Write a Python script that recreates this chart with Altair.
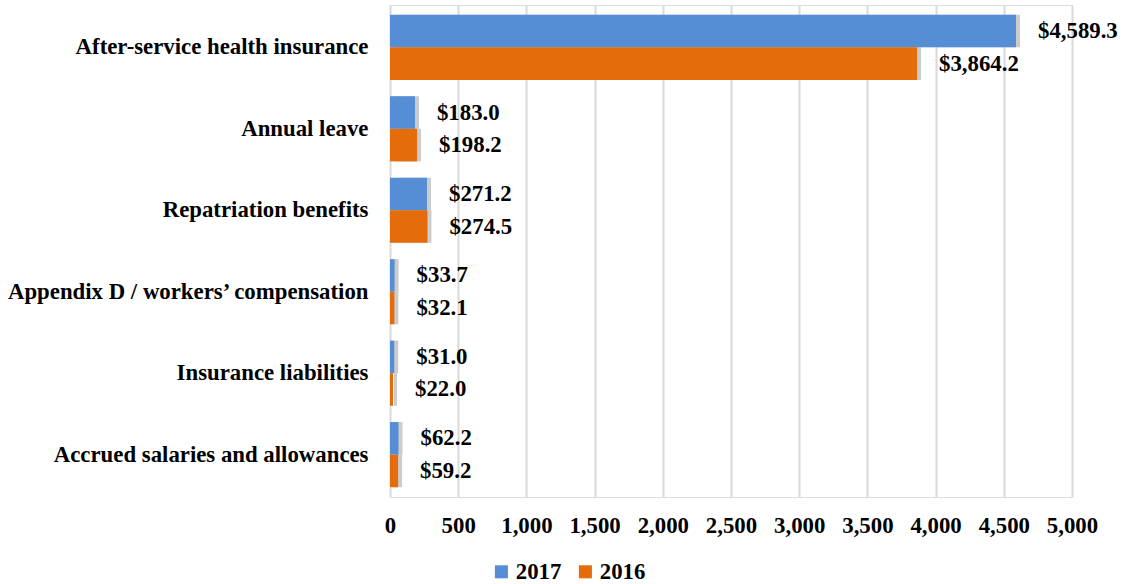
import altair as alt
import pandas as pd

categories = [
    "After-service health insurance",
    "Annual leave",
    "Repatriation benefits",
    "Appendix D / workers\u2019 compensation",
    "Insurance liabilities",
    "Accrued salaries and allowances",
]
values_2017 = [4589.3, 183.0, 271.2, 33.7, 31.0, 62.2]
values_2016 = [3864.2, 198.2, 274.5, 32.1, 22.0, 59.2]
years = ["2017", "2016"]
colors = ["#558ED5", "#E46C0A"]
ticks = [0, 500, 1000, 1500, 2000, 2500, 3000, 3500, 4000, 4500, 5000]

rows = []
for c, v17, v16 in zip(categories, values_2017, values_2016):
    rows.append({"category": c, "year": "2017", "value": v17, "label": f"${v17:,.1f}"})
    rows.append({"category": c, "year": "2016", "value": v16, "label": f"${v16:,.1f}"})
df = pd.DataFrame(rows)

FONT = "Liberation Serif"
FS = 22.8

y_enc = alt.Y("category:N", sort=categories, title=None,
              scale=alt.Scale(paddingInner=0.2, paddingOuter=0.12),
              axis=alt.Axis(labelFont=FONT, labelFontSize=FS, labelFontWeight="bold",
                            labelColor="black", ticks=False, domain=False,
                            labelPadding=22, labelLimit=500))
x_enc = alt.X("value:Q", title=None,
              scale=alt.Scale(domain=[0, 5000], nice=False),
              axis=alt.Axis(values=ticks, format=",.0f", labelOverlap=False,
                            labelFlush=False,
                            labelFont=FONT, labelFontSize=FS, labelFontWeight="bold",
                            labelColor="black", ticks=False, domain=False,
                            labelPadding=17, gridColor="#d9d9d9", gridWidth=2))
yoff = alt.YOffset("year:N", sort=years)

base = alt.Chart(df)

shadow = base.mark_bar(color="#999999", opacity=0.5, xOffset=4).encode(
    y=y_enc, x=x_enc, yOffset=yoff
)

bars = base.mark_bar().encode(
    y=y_enc, x=x_enc, yOffset=yoff,
    color=alt.Color("year:N", sort=years,
                    scale=alt.Scale(domain=years, range=colors),
                    legend=alt.Legend(orient="none", legendX=100, legendY=555,
                                      title=None, symbolType="square",
                                      symbolSize=170, symbolStrokeWidth=0,
                                      labelFont=FONT, labelFontSize=FS,
                                      labelFontWeight="bold", labelColor="black",
                                      direction="horizontal", labelOffset=3,
                                      columnPadding=12)),
)

labels = base.mark_text(align="left", baseline="middle", dx=22, font=FONT,
                        fontSize=FS, fontWeight="bold", color="black").encode(
    y=y_enc, x=x_enc, yOffset=yoff, text="label:N"
)

chart = alt.layer(shadow, bars, labels).properties(
    width=682, height=492
).configure_view(stroke=None).configure(background="white")

chart.save("out.html", embed_options={"renderer": "svg", "actions": False})
